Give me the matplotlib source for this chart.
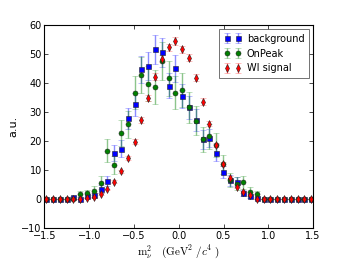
import numpy as np
import matplotlib
matplotlib.use("Agg")
import matplotlib.pyplot as plt

x = np.linspace(-1.48, 1.48, 40)

background = [0, 0, 0, 0, 0.6, 0, 1.0, 1.4, 3.4, 6.2,
              15.8, 17.3, 27.8, 32.6, 44.7, 45.9, 51.6, 50.6, 39.1, 45.1,
              35.5, 31.6, 27.2, 20.6, 21.0, 16.0, 9.4, 6.4, 5.7, 2.1,
              1.0, 0.2, 0, 0, 0, 0, 0, 0, 0, 0]
background_err = [0, 0, 0, 0, 0.5, 0, 0.7, 0.8, 1.3, 1.7,
                  2.8, 2.9, 3.7, 4.0, 4.7, 4.7, 5.0, 5.0, 4.4, 4.7,
                  4.2, 3.9, 3.7, 3.2, 3.2, 2.8, 2.1, 1.8, 1.7, 1.0,
                  0.7, 0.3, 0, 0, 0, 0, 0, 0, 0, 0]

onpeak = [0, 0, 0, 0, 0, 1.7, 1.9, 2.8, 5.6, 16.7,
          11.7, 22.6, 25.7, 36.7, 42.8, 39.8, 38.6, 47.7, 41.6, 36.7,
          37.6, 31.6, 27.0, 20.6, 21.6, 18.6, 12.0, 6.6, 5.3, 5.7,
          2.5, 1.6, 0, 0, 0, 0, 0, 0, 0, 0]
onpeak_err = [0, 0, 0, 0, 0, 1.2, 1.3, 1.6, 2.2, 3.9,
              3.2, 4.5, 4.8, 5.8, 6.2, 6.0, 5.9, 6.6, 6.1, 5.8,
              5.8, 5.3, 4.9, 4.3, 4.4, 4.1, 3.3, 2.4, 2.2, 2.3,
              1.5, 1.2, 0, 0, 0, 0, 0, 0, 0, 0]

signal = [0, 0, 0, 0, 0, 0, 0.3, 0.6, 1.7, 3.3,
          6.0, 9.5, 14.0, 19.8, 27.3, 34.9, 42.2, 48.4, 52.3, 54.6,
          51.6, 48.7, 41.8, 33.6, 25.9, 18.6, 12.0, 7.3, 4.2, 2.5,
          1.2, 0.1, 0, 0, 0, 0, 0, 0, 0, 0]
signal_err = [0, 0, 0, 0, 0, 0, 0.1, 0.15, 0.25, 0.3,
              0.45, 0.55, 0.7, 0.8, 0.95, 1.05, 1.15, 1.25, 1.3, 1.35,
              1.3, 1.25, 1.15, 1.05, 0.9, 0.8, 0.6, 0.5, 0.35, 0.3,
              0.2, 0.05, 0, 0, 0, 0, 0, 0, 0, 0]

plt.rcParams['mathtext.fontset'] = 'cm'
plt.rcParams['font.family'] = ['DejaVu Sans']

fig = plt.figure(figsize=(3.49, 2.62), dpi=100)
ax = fig.add_axes([0.1275, 0.130, 0.7695, 0.7746])

series = [
    (background, background_err, 'b', 's', 3.6, 'background'),
    (onpeak, onpeak_err, 'g', 'o', 3.6, 'OnPeak'),
    (signal, signal_err, 'r', 'd', 3.6, 'WI signal'),
]
for y, e, c, m, ms, lab in series:
    eb = ax.errorbar(x, y, yerr=e, fmt=m, color=c, ms=ms, mec='#222222', mew=0.4,
                     ecolor=c, elinewidth=1.0, capsize=2, capthick=1.0, label=lab)
    for part in eb[1]:
        part.set_alpha(0.45)
    for part in eb[2]:
        part.set_alpha(0.45)

ax.set_xlim(-1.5, 1.5)
ax.set_ylim(-10, 60)
ax.set_xticks([-1.5, -1.0, -0.5, 0.0, 0.5, 1.0, 1.5])
ax.set_yticks([-10, 0, 10, 20, 30, 40, 50, 60])
ax.tick_params(direction='in', top=True, right=True, labelsize=7, length=3, width=0.5, pad=2)
for s in ax.spines.values():
    s.set_linewidth(0.8)

ax.set_ylabel('a.u.', fontsize=8, labelpad=2)
ax.set_xlabel(r'$\mathrm{m}_{\nu}^{2}\quad(\mathrm{GeV}^{2}\ /c^{4}\ )$', fontsize=8, labelpad=2)

leg = ax.legend(loc='upper right', numpoints=2, fontsize=7, frameon=True, fancybox=False,
                borderaxespad=0.4, handlelength=1.7, handletextpad=0.6,
                labelspacing=0.5, borderpad=0.5)
leg.get_frame().set_edgecolor('#333333')
leg.get_frame().set_linewidth(0.6)

fig.savefig('out.png', dpi=100)
